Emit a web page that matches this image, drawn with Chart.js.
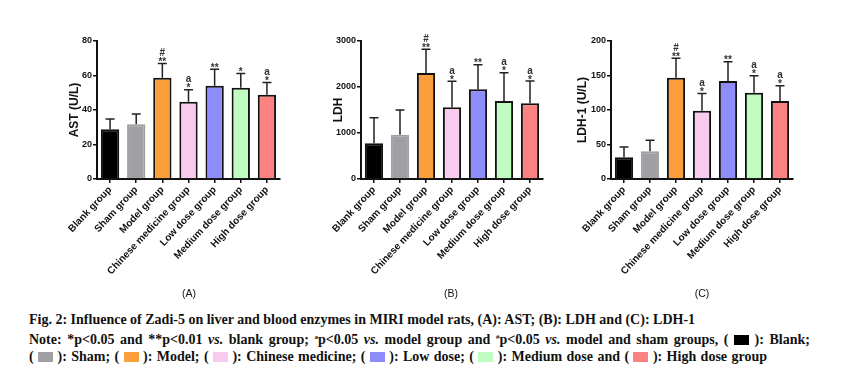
<!DOCTYPE html>
<html>
<head>
<meta charset="utf-8">
<script src="https://cdn.jsdelivr.net/npm/chart.js@4.4.1/dist/chart.umd.min.js"></script>
<style>
  body { margin: 0; background: #fff; width: 842px; height: 385px; position: relative; overflow: hidden; }
  .panel { position: absolute; top: 30px; height: 262px; }
  .plabel { position: absolute; top: 287px; font: 10.5px "Liberation Sans", Arial, sans-serif; color: #111; transform: translateX(-50%); }
  #caption { position: absolute; left: 29px; top: 311px;
             font: bold 14px "Liberation Serif", "Times New Roman", serif; line-height: 17.5px; color: #111; }
  #caption div { white-space: nowrap; }
  #caption .just { text-align: justify; text-align-last: justify; }
  .sw { display: inline-block; width: 15px; height: 10px; vertical-align: -1px; }
  sup { font-size: 7px; vertical-align: 5px; }
</style>
</head>
<body>
<div class="panel" style="left:57px;width:231px"><canvas id="chartA" width="231" height="262"></canvas></div>
<div class="panel" style="left:321px;width:230px"><canvas id="chartB" width="230" height="262"></canvas></div>
<div class="panel" style="left:571px;width:230px"><canvas id="chartC" width="230" height="262"></canvas></div>
<div class="plabel" style="left:189px">(A)</div>
<div class="plabel" style="left:451px">(B)</div>
<div class="plabel" style="left:702px">(C)</div>
<div id="caption">
<div>Fig. 2: Influence of Zadi-5 on liver and blood enzymes in MIRI model rats, (A): AST; (B): LDH and (C): LDH-1</div>
<div class="just" style="width:781px">Note: *p&lt;0.05 and **p&lt;0.01 <i>vs.</i> blank group; <sup>a</sup>p&lt;0.05 <i>vs.</i> model group and <sup>#</sup>p&lt;0.05 <i>vs.</i> model and sham groups, ( <span class="sw" style="background:#000"></span> ): Blank;</div>
<div class="just" style="width:738px">( <span class="sw" style="background:#a0a0a4"></span> ): Sham; ( <span class="sw" style="background:#fb9f3c"></span> ): Model; ( <span class="sw" style="background:#f8cbee"></span> ): Chinese medicine; ( <span class="sw" style="background:#8f8cfb"></span> ): Low dose; ( <span class="sw" style="background:#c0fcc0"></span> ): Medium dose and ( <span class="sw" style="background:#fc8282"></span> ): High dose group</div>
</div>
<script>
const groups = ["Blank group", "Sham group", "Model group", "Chinese medicine group", "Low dose group", "Medium dose group", "High dose group"];
const barColors = ["#000000", "#a0a0a4", "#fb9f3c", "#f8cbee", "#8f8cfb", "#c0fcc0", "#fc8282"];

// AST (U/L): mean and SD (upper whisker)
const astMean = [28.8, 31.7, 58.7, 44.8, 54.1, 52.9, 48.9];
const astSD = [6.0, 6.0, 8.2, 7.0, 9.5, 8.2, 7.1];
const astMarks = [[], [], ["#", "**"], ["a", "*"], ["**"], ["*"], ["a", "*"]];

// LDH (U/L)
const ldhMean = [775, 964, 2304, 1558, 1949, 1696, 1645];
const ldhSD = [558, 536, 515, 565, 537, 616, 485];
const ldhMarks = [[], [], ["#", "**"], ["a", "*"], ["**"], ["a", "*"], ["a", "*"]];

// LDH-1 (U/L)
const ldh1Mean = [31.4, 40.1, 146.9, 99, 142, 125, 113];
const ldh1SD = [15, 15.9, 28, 25, 28, 24.8, 22];
const ldh1Marks = [[], [], ["#", "**"], ["a", "*"], ["**"], ["a", "*"], ["a", "*"]];

const FONT = "'Liberation Sans', Arial, sans-serif";

// draws upper error bars, significance marks and the y-axis title
const errorBarPlugin = {
  id: "errorBars",
  afterDatasetsDraw(chart, args, opts) {
    const ctx = chart.ctx;
    const yScale = chart.scales.y;
    const meta = chart.getDatasetMeta(0);
    ctx.save();
    meta.data.forEach((bar, i) => {
      const top = yScale.getPixelForValue(opts.means[i] + opts.sds[i]);
      ctx.strokeStyle = "#222";
      ctx.lineWidth = 1.5;
      ctx.beginPath();
      ctx.moveTo(bar.x, bar.y);
      ctx.lineTo(bar.x, top);
      ctx.moveTo(bar.x - 4.5, top);
      ctx.lineTo(bar.x + 4.5, top);
      ctx.stroke();
      ctx.fillStyle = "#333";
      ctx.font = "bold 10px " + FONT;
      ctx.textAlign = "center";
      ctx.textBaseline = "alphabetic";
      const marks = opts.marks[i];
      let level = 0;
      for (let k = marks.length - 1; k >= 0; k--) {
        const m = marks[k];
        if (m.indexOf("*") >= 0) ctx.fillText(m, bar.x, top + 1.5 - level * 7);
        else ctx.fillText(m, bar.x, top - 7.5 - (level - 1) * 7);
        level++;
      }
    });
    // y title
    const area = chart.chartArea;
    ctx.translate(area.left - opts.titleOffset, (area.top + area.bottom) / 2);
    ctx.rotate(-Math.PI / 2);
    ctx.font = "bold 12px " + FONT;
    ctx.fillStyle = "#111";
    ctx.textAlign = "center";
    ctx.textBaseline = "middle";
    ctx.fillText(opts.title, 0, 0);
    ctx.restore();
  }
};

function makeChart(id, means, sds, marks, yMax, yStep, title, titleOffset) {
  return new Chart(document.getElementById(id), {
    type: "bar",
    data: {
      labels: groups,
      datasets: [{
        data: means,
        backgroundColor: barColors,
        borderColor: barColors.map((c, i) => (i === 1 ? c : "#111")),
        borderWidth: 2,
        borderSkipped: "bottom",
        barPercentage: 0.7,
        categoryPercentage: 1
      }]
    },
    options: {
      responsive: false,
      animation: false,
      layout: { padding: { top: 11, right: 8, left: 0, bottom: 0 } },
      plugins: {
        legend: { display: false },
        tooltip: { enabled: false },
        errorBars: { means: means, sds: sds, marks: marks, title: title, titleOffset: titleOffset }
      },
      scales: {
        x: {
          afterFit: (s) => { s.height = 113; },
          border: { color: "#111", width: 2 },
          grid: { drawOnChartArea: false, color: "#111", tickLength: 4, lineWidth: 1.5, offset: false },
          ticks: { maxRotation: 47, minRotation: 47, autoSkip: false, padding: 1, color: "#111", font: { family: FONT, size: 10, weight: "bold" } }
        },
        y: {
          min: 0,
          max: yMax,
          afterFit: (s) => { s.width = 40; },
          border: { color: "#111", width: 2 },
          grid: { drawOnChartArea: false, color: "#111", tickLength: 4, lineWidth: 1.5 },
          ticks: { stepSize: yStep, padding: 1, color: "#111", callback: (v) => String(v), font: { family: FONT, size: 9, weight: "bold" } }
        }
      }
    },
    plugins: [errorBarPlugin]
  });
}

makeChart("chartA", astMean, astSD, astMarks, 80, 20, "AST (U/L)", 22);
makeChart("chartB", ldhMean, ldhSD, ldhMarks, 3000, 1000, "LDH", 22);
makeChart("chartC", ldh1Mean, ldh1SD, ldh1Marks, 200, 50, "LDH-1 (U/L)", 28);
</script>
</body>
</html>
